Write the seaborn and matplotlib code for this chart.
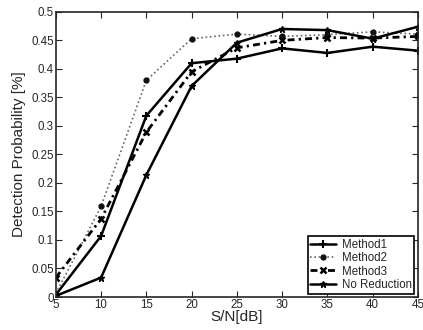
import pandas as pd
import numpy as np
import matplotlib
matplotlib.use("Agg")
import matplotlib.pyplot as plt
import seaborn as sns

# S/N in dB and detection probability
snr = [5, 10, 15, 20, 25, 30, 35, 40, 45]
method1 = [0.004, 0.107, 0.318, 0.410, 0.418, 0.436, 0.428, 0.439, 0.432]
method2 = [0.006, 0.159, 0.380, 0.453, 0.461, 0.457, 0.460, 0.465, 0.461]
method3 = [0.034, 0.137, 0.289, 0.395, 0.437, 0.450, 0.455, 0.454, 0.457]
no_reduction = [0.002, 0.034, 0.214, 0.370, 0.446, 0.470, 0.468, 0.453, 0.474]

names = ["Method1", "Method2", "Method3", "No Reduction"]
df = pd.DataFrame({"snr": snr * 4,
                   "prob": method1 + method2 + method3 + no_reduction,
                   "method": sum([[n] * len(snr) for n in names], [])})

sns.set_style("ticks")
plt.rcParams['font.family'] = ['Liberation Sans', 'DejaVu Sans']

fig = plt.figure(figsize=(4.23, 3.30), dpi=100)
ax = fig.add_axes([0.132, 0.10, 0.856, 0.864])

# line colour, marker colour
styles = {"Method1": dict(ls="-", marker="+", lw=1.8, ms=6, mew=1.5, color="black", mc="black"),
          "Method2": dict(ls=(0, (1, 1.6)), marker=".", lw=1.2, ms=7, color="#666666", mc="#111111"),
          "Method3": dict(ls=(0, (2.5, 1.5, 0.8, 1.5)), marker="x", lw=2.0, ms=4.5,
                          mew=1.8, color="black", mc="black"),
          "No Reduction": dict(ls="-", marker="*", lw=1.8, ms=5, color="black", mc="black")}

for n in names:
    st = styles[n]
    sns.lineplot(data=df[df.method == n], x="snr", y="prob", ax=ax, label=n,
                 color=st["color"], linestyle=st["ls"], marker=st["marker"],
                 linewidth=st["lw"], markersize=st["ms"],
                 markeredgewidth=st.get("mew", 1.0), markeredgecolor=st["mc"],
                 markerfacecolor=st["mc"])

ax.set_xlim(5, 45)
ax.set_ylim(0, 0.5)
ax.set_xticks(range(5, 50, 5))
ax.set_yticks(np.arange(0, 0.51, 0.05))
ax.set_yticklabels(["0", "0.05", "0.1", "0.15", "0.2", "0.25", "0.3", "0.35",
                    "0.4", "0.45", "0.5"])
ax.tick_params(direction="in", top=True, right=True, labelsize=8.3, length=4, pad=1.5)
for s in ax.spines.values():
    s.set_linewidth(1.2)
    s.set_visible(True)
ax.set_xlabel("S/N[dB]", fontsize=11, labelpad=-1)
ax.set_ylabel("Detection Probability [%]", fontsize=11, labelpad=4)

leg = ax.legend(loc="lower right", fontsize=8.3, frameon=True, fancybox=False,
                edgecolor="black", framealpha=1, handlelength=2.2,
                borderpad=0.25, labelspacing=0.1, handletextpad=0.5,
                borderaxespad=0.3)
leg.get_frame().set_linewidth(1.2)

fig.savefig("out.png", dpi=100)
